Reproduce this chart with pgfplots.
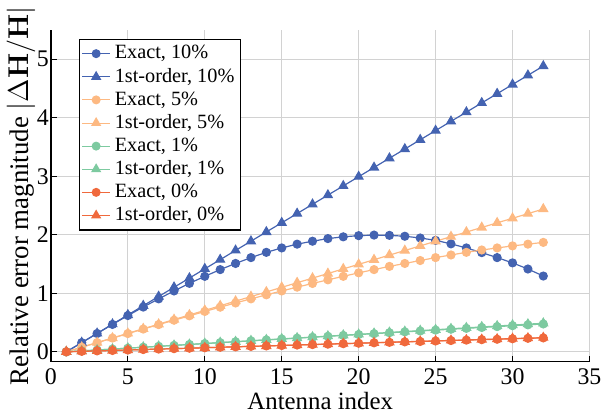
\documentclass[border=0pt]{standalone}
\usepackage{pgfplots}
\usepackage{pgfplotstable}
\pgfplotsset{compat=1.18}
\usepackage[no-math]{fontspec}
\setmainfont{Liberation Serif}

\definecolor{cblue}{RGB}{68,99,177}
\definecolor{corange}{RGB}{253,185,130}
\definecolor{cgreen}{RGB}{125,202,160}
\definecolor{cred}{RGB}{240,105,60}

% columns: antenna index, exact / 1st-order for 10%, 5%, 1%, 0%
\pgfplotstableread{
i  ex10   fo10   ex5    fo5    ex1    fo1    ex0    fo0
1  0      0      0      0      0      0      0      0
2  0.157  0.158  0.078  0.079  0.016  0.016  0.008  0.008
3  0.313  0.315  0.157  0.157  0.031  0.032  0.016  0.016
4  0.468  0.473  0.235  0.236  0.047  0.047  0.023  0.023
5  0.620  0.630  0.312  0.315  0.063  0.063  0.031  0.031
6  0.765  0.788  0.389  0.394  0.079  0.079  0.039  0.039
7  0.905  0.945  0.465  0.472  0.094  0.095  0.047  0.047
8  1.040  1.103  0.540  0.551  0.110  0.110  0.054  0.055
9  1.170  1.260  0.615  0.630  0.126  0.126  0.062  0.062
10 1.290  1.418  0.690  0.708  0.141  0.142  0.070  0.070
11 1.405  1.575  0.763  0.787  0.157  0.158  0.078  0.078
12 1.510  1.733  0.835  0.866  0.172  0.173  0.085  0.086
13 1.610  1.890  0.905  0.944  0.188  0.189  0.093  0.094
14 1.700  2.048  0.974  1.023  0.203  0.205  0.101  0.101
15 1.775  2.205  1.040  1.102  0.219  0.221  0.108  0.109
16 1.840  2.363  1.105  1.181  0.234  0.236  0.116  0.117
17 1.890  2.520  1.168  1.259  0.249  0.252  0.124  0.125
18 1.935  2.678  1.230  1.338  0.265  0.268  0.131  0.133
19 1.965  2.835  1.290  1.417  0.280  0.284  0.139  0.140
20 1.985  2.993  1.350  1.495  0.295  0.299  0.147  0.148
21 1.995  3.150  1.405  1.574  0.310  0.315  0.154  0.156
22 1.990  3.308  1.460  1.653  0.326  0.331  0.162  0.164
23 1.975  3.465  1.510  1.731  0.341  0.347  0.170  0.172
24 1.945  3.623  1.560  1.810  0.356  0.362  0.177  0.179
25 1.905  3.780  1.610  1.889  0.371  0.378  0.185  0.187
26 1.845  3.938  1.655  1.968  0.386  0.394  0.193  0.195
27 1.775  4.095  1.700  2.046  0.401  0.410  0.200  0.203
28 1.695  4.253  1.740  2.125  0.416  0.425  0.208  0.211
29 1.610  4.410  1.775  2.204  0.431  0.441  0.215  0.218
30 1.520  4.568  1.810  2.282  0.446  0.457  0.223  0.226
31 1.415  4.725  1.840  2.361  0.461  0.473  0.231  0.234
32 1.295  4.883  1.870  2.440  0.476  0.488  0.238  0.242
}\datatable

\begin{document}
\begin{tikzpicture}
\begin{axis}[
    scale only axis,
    width=271pt, height=167pt,
    xmin=0, xmax=35, ymin=-0.17, ymax=5.5,
    xtick={0,5,...,35}, ytick={0,1,...,5},
    axis x line*=bottom, axis y line*=left,
    axis line style={-, black, line width=0.6pt},
    major tick length=3pt,
    tick style={black, line width=0.5pt},
    grid=major,
    major grid style={gray!35, line width=0.5pt},
    /pgf/number format/assume math mode=true,
    tick label style={font=\fontsize{12}{13}\selectfont},
    yticklabel style={xshift=2.5pt},
    xlabel style={font=\fontsize{12.5}{14}\selectfont, yshift=3pt},
    ylabel style={font=\fontsize{13.5}{15}\selectfont, yshift=-6pt},
    xlabel={Antenna index},
    ylabel={Relative error magnitude $\left|\Delta\mathbf{H}/\mathbf{H}\right|$},
    legend style={at={(0.052,0.973)}, anchor=north west,
        draw=black, line width=0.6pt, fill=white,
        font=\fontsize{10.2}{12}\selectfont,
        inner sep=1pt, row sep=-0.8pt,
        cells={anchor=west}},
    legend image code/.code={%
        \draw[mark repeat=2, mark phase=2, line width=0.5pt, #1]
        plot coordinates {(0cm,0cm) (0.25cm,0cm) (0.5cm,0cm)};},
    every axis plot/.append style={line width=0.6pt},
]
\addplot[cblue, mark=*, mark size=2pt] table[x=i, y=ex10] {\datatable};
\addlegendentry{Exact, 10\%}
\addplot[cblue, mark=triangle*, mark size=2.5pt] table[x=i, y=fo10] {\datatable};
\addlegendentry{1st-order, 10\%}
\addplot[corange, mark=*, mark size=2pt] table[x=i, y=ex5] {\datatable};
\addlegendentry{Exact, 5\%}
\addplot[corange, mark=triangle*, mark size=2.5pt] table[x=i, y=fo5] {\datatable};
\addlegendentry{1st-order, 5\%}
\addplot[cgreen, mark=*, mark size=2pt] table[x=i, y=ex1] {\datatable};
\addlegendentry{Exact, 1\%}
\addplot[cgreen, mark=triangle*, mark size=2.5pt] table[x=i, y=fo1] {\datatable};
\addlegendentry{1st-order, 1\%}
\addplot[cred, mark=*, mark size=2pt] table[x=i, y=ex0] {\datatable};
\addlegendentry{Exact, 0\%}
\addplot[cred, mark=triangle*, mark size=2.5pt] table[x=i, y=fo0] {\datatable};
\addlegendentry{1st-order, 0\%}
\end{axis}
\end{tikzpicture}
\end{document}
